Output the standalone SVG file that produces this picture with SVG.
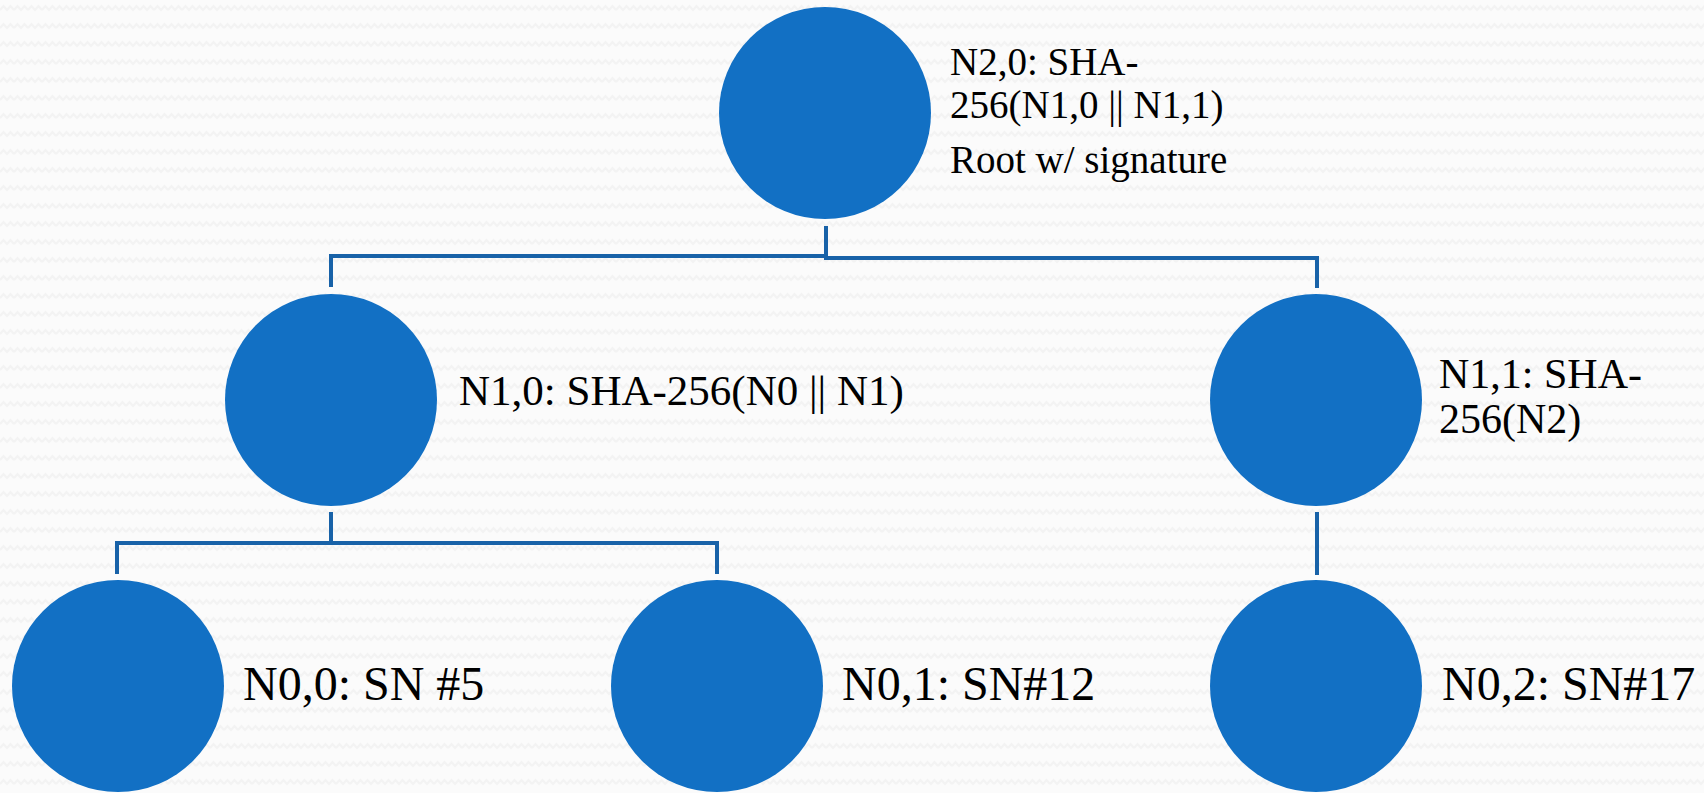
<svg xmlns="http://www.w3.org/2000/svg" width="1704" height="793" viewBox="0 0 1704 793">
<style>
.node{fill:#1270c4;}
.lbl{font-family:"Liberation Serif","Times New Roman",serif;fill:#000;}
.conn path{fill:none;stroke:#1862a8;stroke-width:4;stroke-linejoin:miter;stroke-linecap:butt;}
</style>
<defs>
<pattern id="zz" width="14" height="18" patternUnits="userSpaceOnUse">
<rect width="14" height="18" fill="#fbfbfb"/>
<path d="M0 10 L3.5 6 L7 10 L10.5 6 L14 10" fill="none" stroke="#f3f3f3" stroke-width="2"/>
</pattern>
</defs>
<rect width="1704" height="793" fill="url(#zz)"/>
<g id="connectors" class="conn">
<path d="M826 226 V256 H331 V287"/>
<path d="M826 226 V258 H1317 V288"/>
<path d="M331 512 V543 H117 V574"/>
<path d="M331 512 V543 H717 V574"/>
<path d="M1317 512 V575"/>
</g>
<g id="n20">
<circle class="node" cx="825" cy="113" r="106"/>
<text class="lbl" font-size="39" x="950" y="75">N2,0: SHA-</text>
<text class="lbl" font-size="39" x="950" y="118">256(N1,0 || N1,1)</text>
<text class="lbl" font-size="39" x="950" y="173">Root w/ signature</text>
</g>
<g id="n10">
<circle class="node" cx="331" cy="400" r="106"/>
<text class="lbl" font-size="43" x="459" y="405">N1,0: SHA-256(N0 || N1)</text>
</g>
<g id="n11">
<circle class="node" cx="1316" cy="400" r="106"/>
<text class="lbl" font-size="42" x="1439" y="388">N1,1: SHA-</text>
<text class="lbl" font-size="42" x="1439" y="433">256(N2)</text>
</g>
<g id="n00">
<circle class="node" cx="118" cy="686" r="106"/>
<text class="lbl" font-size="48" x="243" y="700">N0,0: SN #5</text>
</g>
<g id="n01">
<circle class="node" cx="717" cy="686" r="106"/>
<text class="lbl" font-size="48" x="842" y="700">N0,1: SN#12</text>
</g>
<g id="n02">
<circle class="node" cx="1316" cy="686" r="106"/>
<text class="lbl" font-size="48" x="1442" y="700">N0,2: SN#17</text>
</g>
</svg>
